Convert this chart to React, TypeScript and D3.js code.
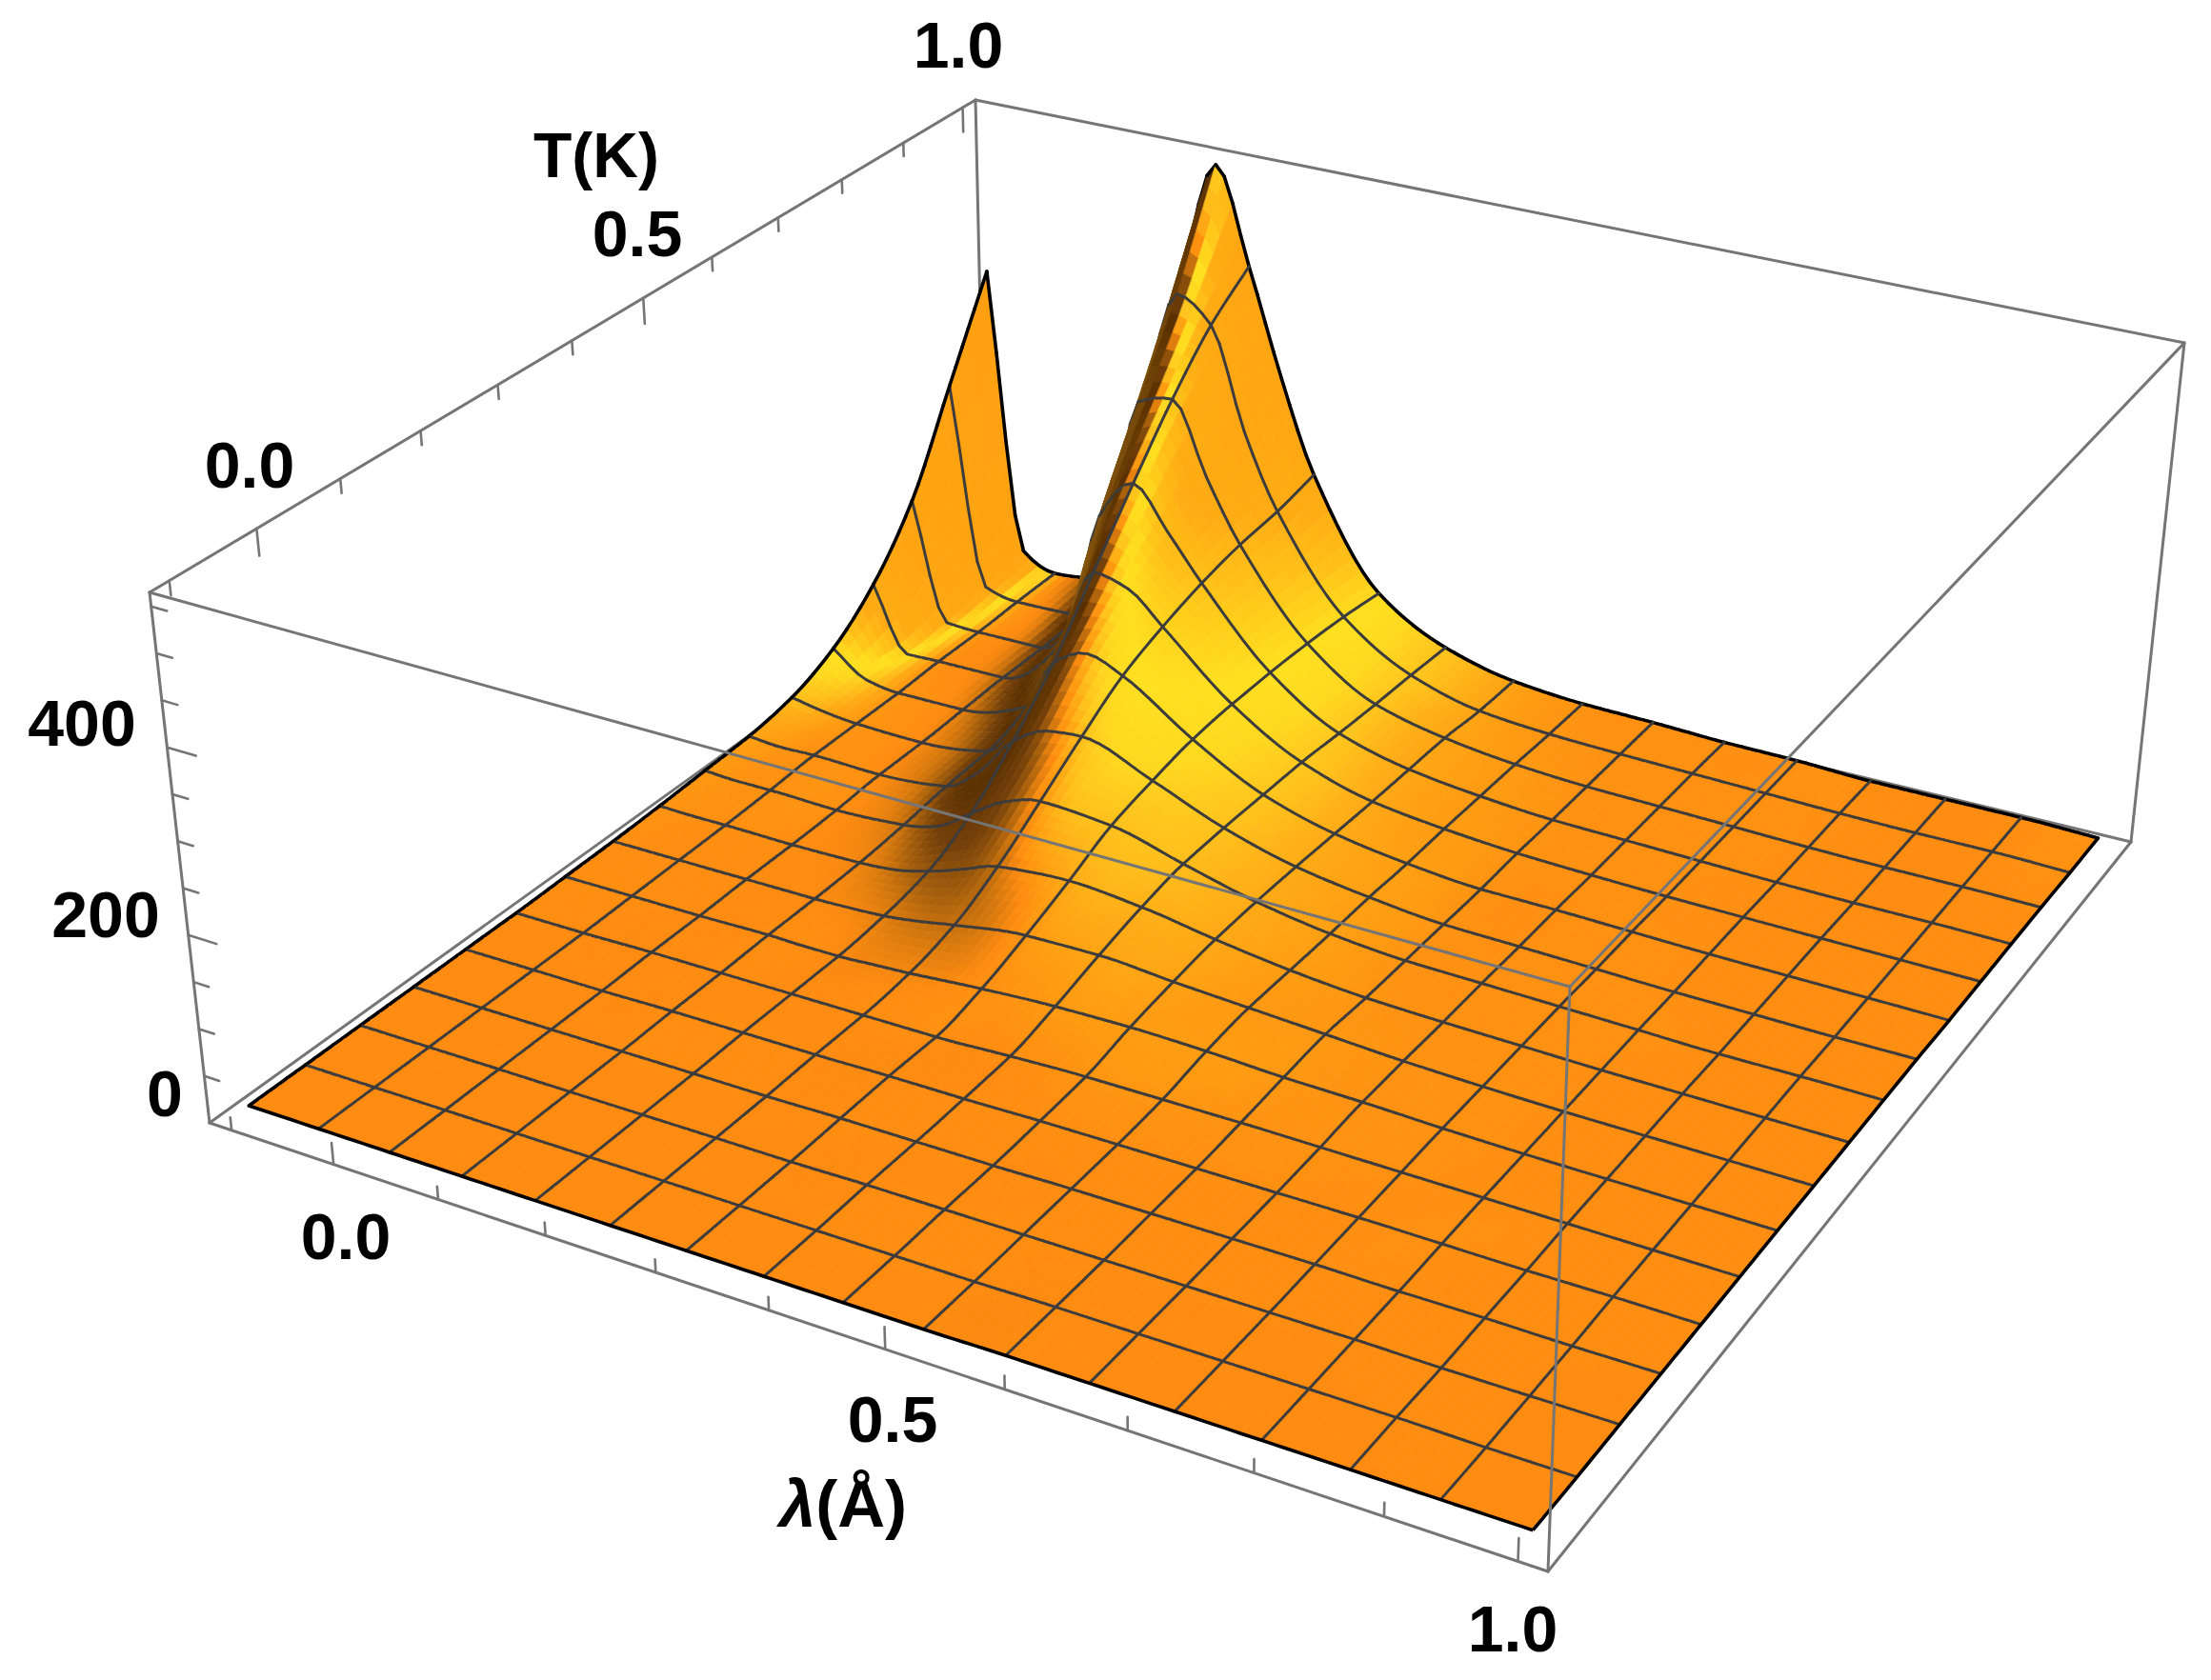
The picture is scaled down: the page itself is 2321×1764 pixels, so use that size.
// App.tsx - surface of T(K) over lambda and T, drawn as projected patches
import React, { useEffect, useRef } from "react";
import * as d3 from "d3";

const width = 2321;
const height = 1764;

// lambda positions of the sampled columns (mesh lines plus a few half steps near the peaks)
const lambdaColumns = [
  -0.1, -0.06563, -0.03125, 0.0375, 0.10625, 0.14063, 0.175, 0.20938, 0.24375, 0.3125,
  0.38125, 0.45, 0.51875, 0.5875, 0.65625, 0.725, 0.79375, 0.8625, 0.93125, 1.0,
];
// T positions of the rows, low to high
const tRows = [
  -0.1, -0.03125, 0.0375, 0.10625, 0.175, 0.24375, 0.3125, 0.38125, 0.45, 0.51875, 0.5875,
  0.65625, 0.725, 0.79375, 0.8625, 0.93125, 1.0,
];

// surface height, one list per T row
const rowT00 = [12, 12, 12, 12, 12, 12, 12, 12, 12, 12, 12, 12, 12, 13, 13, 13, 13, 13, 13, 13];
const rowT01 = [12, 12, 12, 12, 12, 12, 12, 12, 12, 12, 12, 12, 12, 13, 13, 13, 13, 13, 12, 12];
const rowT02 = [12, 12, 12, 12, 12, 12, 12, 12, 12, 12, 13, 13, 13, 13, 13, 13, 13, 12, 12, 12];
const rowT03 = [12, 12, 12, 12, 12, 12, 12, 12, 12, 13, 13, 13, 14, 14, 14, 14, 13, 13, 12, 12];
const rowT04 = [12, 12, 12, 12, 13, 13, 13, 13, 13, 14, 14, 15, 15, 15, 15, 15, 14, 13, 13, 12];
const rowT05 = [12, 12, 12, 13, 13, 13, 13, 13, 13, 13, 16, 18, 18, 18, 17, 16, 15, 14, 13, 12];
const rowT06 = [13, 13, 13, 13, 14, 13, 13, 15, 17, 23, 27, 28, 26, 22, 20, 17, 15, 14, 13, 12];
const rowT07 = [14, 14, 14, 14, 14, 15, 17, 22, 29, 40, 41, 35, 30, 25, 20, 17, 15, 14, 13, 12];
const rowT08 = [16, 15, 15, 14, 15, 18, 27, 40, 54, 60, 53, 40, 29, 22, 19, 17, 15, 14, 13, 12];
const rowT09 = [19, 17, 17, 15, 19, 28, 53, 77, 88, 82, 61, 41, 28, 21, 19, 17, 15, 13, 13, 12];
const rowT10 = [22, 19, 20, 18, 25, 52, 97, 119, 123, 94, 62, 40, 28, 20, 18, 16, 14, 13, 12, 12];
const rowT11 = [31, 24, 20, 18, 28, 70, 150, 170, 155, 103, 61, 38, 26, 19, 18, 16, 14, 13, 12, 11];
const rowT12 = [53, 26, 20, 20, 44, 120, 219, 209, 175, 106, 60, 36, 26, 20, 17, 15, 14, 13, 12, 11];
const rowT13 = [94, 21, 22, 22, 90, 240, 287, 240, 190, 106, 56, 35, 25, 19, 17, 15, 13, 12, 12, 11];
const rowT14 = [160, 24, 22, 22, 150, 340, 352, 270, 200, 104, 53, 34, 24, 19, 17, 15, 13, 12, 12, 11];
const rowT15 = [265, 33, 24, 26, 300, 435, 407, 290, 205, 100, 51, 29, 22, 19, 17, 15, 13, 12, 12, 10];
const rowT16 = [372, 43, 25, 40, 415, 558, 445, 320, 215, 93, 48, 28, 21, 19, 16, 15, 12, 12, 12, 10];
const surfaceRows = [
  rowT00, rowT01, rowT02, rowT03, rowT04, rowT05, rowT06, rowT07, rowT08, rowT09, rowT10,
  rowT11, rowT12, rowT13, rowT14, rowT15, rowT16,
];

const lambdaTicks = d3.range(-1, 11).map((d) => d / 10);
const tTicks = d3.range(-1, 11).map((d) => d / 10);
const zTicks = d3.range(0, 551, 50);
const majorAxisTicks = [0, 0.5, 1];
const majorZTicks = [0, 200, 400];

// box corners as they sit on the page
const bottomCorners = [[220, 1179], [1625, 1650], [2237, 884], [1035, 594]];
const topCorners = [[157, 622], [1648, 1036], [2293, 360], [1024, 105]];

const labelSpots = [
  { text: "1.0", x: 1006, y: 49 },
  { text: "0.5", x: 669, y: 247 },
  { text: "0.0", x: 262, y: 490 },
  { text: "400", x: 86, y: 761 },
  { text: "200", x: 111, y: 962 },
  { text: "0", x: 173, y: 1150 },
  { text: "0.0", x: 363, y: 1300 },
  { text: "0.5", x: 937, y: 1492 },
  { text: "1.0", x: 1588, y: 1712 },
];

const gridCells = 16;
const subU = 8;
const subT = 6;
const boxColor = "#757575";
const meshColor = "#3c3c3c";

// unit square to quad: a=(0,0) b=(1,0) c=(1,1) d=(0,1)
function quadMap(q: number[][]) {
  const [a, b, c, d] = q;
  const dx1 = b[0] - c[0];
  const dx2 = d[0] - c[0];
  const sx = a[0] - b[0] + c[0] - d[0];
  const dy1 = b[1] - c[1];
  const dy2 = d[1] - c[1];
  const sy = a[1] - b[1] + c[1] - d[1];
  const den = dx1 * dy2 - dx2 * dy1;
  const g = (sx * dy2 - dx2 * sy) / den;
  const h = (dx1 * sy - sx * dy1) / den;
  return (u: number, v: number) => {
    const w = g * u + h * v + 1;
    return [
      ((b[0] - a[0] + g * b[0]) * u + (d[0] - a[0] + h * d[0]) * v + a[0]) / w,
      ((b[1] - a[1] + g * b[1]) * u + (d[1] - a[1] + h * d[1]) * v + a[1]) / w,
    ];
  };
}

const bottomMap = quadMap(bottomCorners);
const topMap = quadMap(topCorners);

const uScale = d3.scaleLinear().domain([-0.122, 1.022]).range([0, 1]);
const vScale = d3.scaleLinear().domain([-0.122, 1.022]).range([0, 1]);
const zScale = d3.scaleLinear().domain([0, 565]).range([0, 1]);

function project(u: number, v: number, t: number) {
  const p0 = bottomMap(u, v);
  const p1 = topMap(u, v);
  return [p0[0] + (p1[0] - p0[0]) * t, p0[1] + (p1[1] - p0[1]) * t];
}

// monotone cubic through (xs, ys), so the steep flanks do not overshoot
function monotone(xs: number[], ys: number[]) {
  const n = xs.length;
  const sec = d3.range(n - 1).map((i) => (ys[i + 1] - ys[i]) / (xs[i + 1] - xs[i]));
  const m = d3.range(n).map((i) => {
    if (i === 0) return sec[0];
    if (i === n - 1) return sec[n - 2];
    if (sec[i - 1] * sec[i] <= 0) return 0;
    return (2 * sec[i - 1] * sec[i]) / (sec[i - 1] + sec[i]);
  });
  return (x: number) => {
    const i = Math.min(n - 2, Math.max(0, d3.bisectRight(xs, x) - 1));
    const h = xs[i + 1] - xs[i];
    const s = (x - xs[i]) / h;
    const s2 = s * s;
    const s3 = s2 * s;
    return (
      (2 * s3 - 3 * s2 + 1) * ys[i] +
      (s3 - 2 * s2 + s) * h * m[i] +
      (-2 * s3 + 3 * s2) * ys[i + 1] +
      (s3 - s2) * h * m[i + 1]
    );
  };
}

// colour against slope along lambda: left facing goes brown, right facing goes yellow
const shade = d3
  .scaleLinear<string>()
  .domain([-6, -3, -0.9, -0.5, -0.28, -0.12, 0, 0.15, 0.25, 0.4, 0.7, 1, 1.6, 2.2, 3.5, 10])
  .range([
    "#b08014", "#8a5a10", "#5a3000", "#74400a", "#a45e0c", "#d87a0e", "#ff8c10", "#ffa012",
    "#ffac16", "#ffc01c", "#ffd820", "#ffe020", "#ffc018", "#ffac14", "#ffa612", "#ffa010",
  ])
  .clamp(true);

const boxHeight = 0.5;

const App = () => {
  const svgRef = useRef<SVGSVGElement>(null);

  useEffect(() => {
    const svg = d3.select(svgRef.current);
    svg.selectAll("*").remove();

    const nU = gridCells * subU;
    const nT = gridCells * subT;
    const fineL = d3.range(nU + 1).map((k) => -0.1 + (1.1 * k) / nU);
    const fineT = d3.range(nT + 1).map((k) => -0.1 + (1.1 * k) / nT);

    // rows along lambda first, then each fine column along T
    const rowFns = surfaceRows.map((r) => monotone(lambdaColumns, r));
    const zGrid: number[][] = fineL.map((l) => {
      const colFn = monotone(tRows, rowFns.map((f) => f(l)));
      return fineT.map((t) => colFn(t));
    });
    // zGrid[i][j]: i along lambda, j along T
    const pts = zGrid.map((col, i) =>
      col.map((z, j) => project(uScale(fineL[i]), vScale(fineT[j]), zScale(z)))
    );

    const du = uScale(fineL[1]) - uScale(fineL[0]);
    const dv = vScale(fineT[1]) - vScale(fineT[0]);
    const slope = (i: number, j: number) => {
      const i0 = Math.max(0, i - 1);
      const i1 = Math.min(nU, i + 1);
      const j0 = Math.max(0, j - 1);
      const j1 = Math.min(nT, j + 1);
      const zu = (boxHeight * (zScale(zGrid[i0][j]) - zScale(zGrid[i1][j]))) / ((i1 - i0) * du);
      const zv = (boxHeight * (zScale(zGrid[i][j1]) - zScale(zGrid[i][j0]))) / ((j1 - j0) * dv);
      const fade = Math.max(0, Math.min(1, 1 + zu / 0.2));
      return zu + 0.8 * Math.max(zv, 0) * fade;
    };

    // slope field softened so the shading has no blocks
    const slopeField = {
      data: Float64Array.from(d3.range((nU + 1) * (nT + 1)), (k) =>
        slope(k % (nU + 1), Math.floor(k / (nU + 1)))
      ),
      width: nU + 1,
      height: nT + 1,
    };
    d3.blur2(slopeField, 1.6, 2);
    const slopeAt = (i: number, j: number) => slopeField.data[j * (nU + 1) + i];

    const line = d3.line();
    const items: { d: string; kind: string; fill?: string }[] = [];
    for (let j = nT - 1; j >= 0; j--) {
      for (let i = 0; i < nU; i++) {
        const s = (slopeAt(i, j) + slopeAt(i + 1, j) + slopeAt(i, j + 1) + slopeAt(i + 1, j + 1)) / 4;
        items.push({
          d: line([pts[i][j], pts[i + 1][j], pts[i + 1][j + 1], pts[i][j + 1]] as any) + "Z",
          kind: "fill",
          fill: shade(s),
        });
        // back and left edges are shared with patches already painted
        if ((j + 1) % subT === 0) {
          items.push({
            d: line([pts[i][j + 1], pts[i + 1][j + 1]] as any) as string,
            kind: j + 1 === nT ? "edge" : "mesh",
          });
        }
        if (i % subU === 0) {
          items.push({
            d: line([pts[i][j], pts[i][j + 1]] as any) as string,
            kind: i === 0 ? "edge" : "mesh",
          });
        }
      }
    }

    const boxLine = (g: any, a: number[], b: number[]) => {
      const p0 = project(a[0], a[1], a[2]);
      const p1 = project(b[0], b[1], b[2]);
      g.append("line")
        .attr("x1", p0[0])
        .attr("y1", p0[1])
        .attr("x2", p1[0])
        .attr("y2", p1[1])
        .attr("stroke", boxColor)
        .attr("stroke-width", 3)
        .attr("stroke-linecap", "round");
    };

    // part of the box behind the surface
    const back = svg.append("g");
    boxLine(back, [0, 0, 0], [0, 1, 0]);
    boxLine(back, [1, 1, 0], [0, 1, 0]);
    boxLine(back, [0, 1, 0], [0, 1, 1]);
    boxLine(back, [0, 0, 1], [0, 1, 1]);
    boxLine(back, [0, 1, 1], [1, 1, 1]);
    boxLine(back, [1, 1, 0], [1, 1, 1]);
    boxLine(back, [0, 0, 0], [0, 0, 1]);
    boxLine(back, [0, 0, 0], [1, 0, 0]);
    boxLine(back, [1, 0, 0], [1, 1, 0]);

    const ticks = svg.append("g");
    lambdaTicks.forEach((l) => {
      const major = majorAxisTicks.includes(l);
      boxLine(ticks, [uScale(l), 0, 0], [uScale(l), 0, major ? 0.04 : 0.024]);
    });
    tTicks.forEach((t) => {
      const major = majorAxisTicks.includes(t);
      boxLine(ticks, [0, vScale(t), 1], [0, vScale(t), major ? 0.948 : 0.972]);
    });
    zTicks.forEach((z) => {
      const major = majorZTicks.includes(z);
      if (z > 0) boxLine(ticks, [0, 0, zScale(z)], [major ? 0.024 : 0.013, 0, zScale(z)]);
    });
    ticks.selectAll("line").attr("stroke-width", 2.6);

    svg
      .append("g")
      .selectAll("path")
      .data(items)
      .join("path")
      .attr("d", (d) => d.d)
      .attr("fill", (d) => (d.kind === "fill" ? (d.fill as string) : "none"))
      .attr("stroke", (d) => (d.kind === "fill" ? (d.fill as string) : d.kind === "edge" ? "#000" : meshColor))
      .attr("stroke-width", (d) => (d.kind === "fill" ? 0.8 : d.kind === "edge" ? 3.6 : 3))
      .attr("stroke-linecap", "round");

    // nearest boundary of the surface
    const frontEdge = fineL.map((_, i) => pts[i][0]);
    const rightEdge = fineT.map((_, j) => pts[nU][j]);
    [frontEdge, rightEdge].forEach((e) => {
      svg
        .append("path")
        .attr("d", line(e as any) as string)
        .attr("fill", "none")
        .attr("stroke", "#000")
        .attr("stroke-width", 3.6);
    });

    // part of the box in front of the surface
    const front = svg.append("g");
    boxLine(front, [0, 0, 1], [1, 0, 1]);
    boxLine(front, [1, 0, 1], [1, 1, 1]);
    boxLine(front, [1, 0, 0], [1, 0, 1]);

    const labels = svg
      .append("g")
      .attr("font-family", "'Liberation Sans', Arial, sans-serif")
      .attr("font-weight", "bold")
      .attr("font-size", 68)
      .attr("fill", "#000")
      .attr("text-anchor", "middle");
    labels
      .selectAll("text")
      .data(labelSpots)
      .join("text")
      .attr("x", (d) => d.x)
      .attr("y", (d) => d.y)
      .attr("dy", "0.32em")
      .text((d) => d.text);

    const tLabel = labels.append("text").attr("x", 626).attr("y", 166).attr("dy", "0.3em").attr("font-size", 66);
    tLabel.text("T(K)");
    const lLabel = labels.append("text").attr("x", 885).attr("y", 1581).attr("dy", "0.32em").attr("font-size", 69);
    lLabel.append("tspan").attr("font-style", "italic").text("λ");
    lLabel.append("tspan").text("(Å)");
  }, []);

  return (
    <svg
      ref={svgRef}
      width={width}
      height={height}
      viewBox={`0 0 ${width} ${height}`}
      style={{ position: "absolute", left: 0, top: 0, background: "#fff" }}
    />
  );
};

export default App;
